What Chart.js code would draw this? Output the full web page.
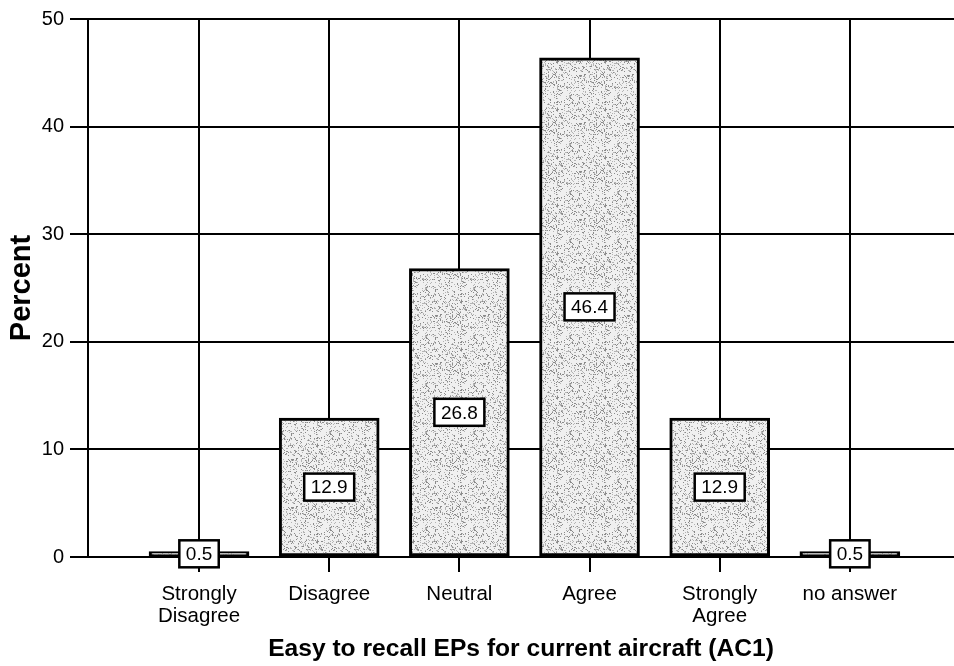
<!DOCTYPE html>
<html>
<head>
<meta charset="utf-8">
<script src="https://cdn.jsdelivr.net/npm/chart.js@4/dist/chart.umd.min.js"></script>
<style>
  html, body { margin: 0; padding: 0; background: #fff; overflow: hidden; }
  #wrap { width: 954px; height: 666px; }
</style>
</head>
<body>
<div id="wrap"><canvas id="chart" width="954" height="666"></canvas></div>
<script>
/* Easy to recall EPs for current aircraft (AC1) — percent per answer */

const categories = [
  ['Strongly', 'Disagree'],
  'Disagree',
  'Neutral',
  'Agree',
  ['Strongly', 'Agree'],
  'no answer',
];
const percents = [0.5, 12.9, 26.8, 46.4, 12.9, 0.5];
const yTicks = [0, 10, 20, 30, 40, 50];

const FONT = "'Liberation Sans', Arial, Helvetica, sans-serif";

// stippled grey fill, like the scanned print
function makeStipple() {
  const c = document.createElement('canvas');
  c.width = 48; c.height = 48;
  const g = c.getContext('2d');
  g.fillStyle = '#f0f0f0';
  g.fillRect(0, 0, 48, 48);
  let s = 12345;
  const next = () => { s = (s * 1103515245 + 12345) & 0x7fffffff; return s / 0x7fffffff; };
  for (let y = 0; y < 48; y++) {
    for (let x = 0; x < 48; x++) {
      const streak = ((x + 48 - y) % 12) < 3 ? 0.16 : 0;
      if (next() < 0.17 + streak) {
        g.fillStyle = next() < 0.5 ? '#8a8a8a' : '#b4b4b4';
        g.fillRect(x, y, 1, 1);
      }
    }
  }
  return g.createPattern(c, 'repeat');
}

const valueBoxes = {
  id: 'valueBoxes',
  afterDatasetsDraw(chart) {
    const ctx = chart.ctx;
    const meta = chart.getDatasetMeta(0);
    ctx.save();
    ctx.font = '19px ' + FONT;
    ctx.textAlign = 'center';
    ctx.textBaseline = 'middle';
    meta.data.forEach((bar, i) => {
      const txt = String(percents[i]);
      const w = ctx.measureText(txt).width + 13;
      const h = 27;
      const cx = bar.x;
      const cy = (bar.y + bar.base) / 2;
      ctx.fillStyle = '#fff';
      ctx.fillRect(cx - w / 2, cy - h / 2, w, h);
      ctx.lineWidth = 2.5;
      ctx.strokeStyle = '#000';
      ctx.strokeRect(cx - w / 2, cy - h / 2, w, h);
      ctx.fillStyle = '#000';
      ctx.fillText(txt, cx, cy + 1);
    });
    ctx.restore();
  }
};

const ctx = document.getElementById('chart').getContext('2d');
new Chart(ctx, {
  type: 'bar',
  data: {
    datasets: [{
      data: percents.map((v, i) => ({ x: i, y: v })),
      backgroundColor: makeStipple(),
      borderColor: '#000',
      borderWidth: 3,
      borderSkipped: false,
      barThickness: 100,
    }]
  },
  options: {
    responsive: false,
    animation: false,
    layout: { padding: { left: 0, right: 0, top: 19, bottom: 0 } },
    plugins: { legend: { display: false }, tooltip: { enabled: false } },
    scales: {
      x: {
        type: 'linear',
        offset: false,
        min: -0.853,
        max: 5.8,
        afterBuildTicks: s => { s.ticks = categories.map((c, i) => ({ value: i })); },
        afterFit: s => { s.height = 109; },
        grid: { color: '#000', lineWidth: 2, tickLength: 15, drawTicks: true, offset: false },
        border: { color: '#000', width: 2 },
        ticks: {
          color: '#000',
          font: { family: FONT, size: 20.5, lineHeight: 1.05 },
          padding: 12,
          maxRotation: 0,
          autoSkip: false,
          callback: (v) => categories[v],
        },
        title: {
          display: true,
          text: 'Easy to recall EPs for current aircraft (AC1)',
          color: '#000',
          font: { family: FONT, size: 24.6, weight: 'bold' },
          padding: { top: 0, bottom: 2 },
        },
      },
      y: {
        min: 0,
        max: 50,
        afterBuildTicks: s => { s.ticks = yTicks.map(v => ({ value: v })); },
        afterFit: s => { s.width = 88; },
        grid: { color: '#000', lineWidth: 2, tickLength: 18 },
        border: { color: '#000', width: 2 },
        ticks: {
          color: '#000',
          font: { family: FONT, size: 20 },
          padding: 6,
        },
        title: {
          display: true,
          text: 'Percent',
          color: '#000',
          font: { family: FONT, size: 29, weight: 'bold' },
          padding: { top: 5, bottom: 0 },
        },
      },
    },
  },
  plugins: [valueBoxes],
});
</script>
</body>
</html>
